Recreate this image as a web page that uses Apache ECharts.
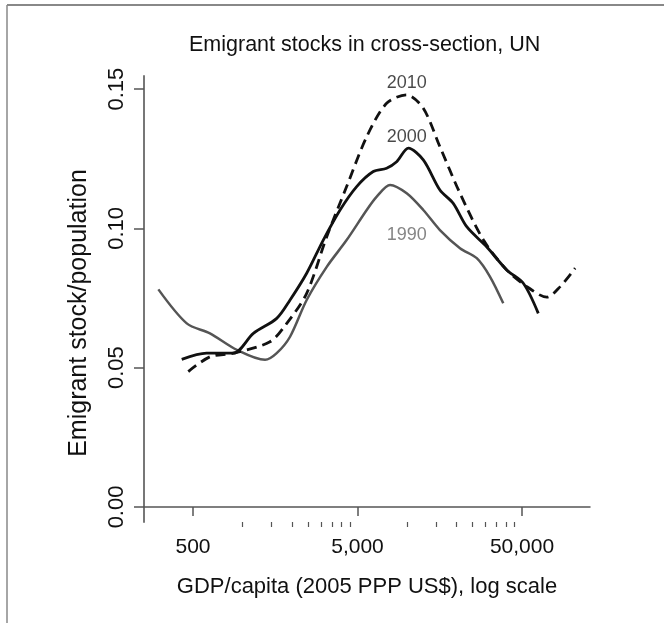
<!DOCTYPE html>
<html>
<head>
<meta charset="utf-8">
<script src="https://cdn.jsdelivr.net/npm/echarts@6/dist/echarts.min.js"></script>
<style>
  html, body { margin: 0; padding: 0; background: #fff; }
  #main { width: 664px; height: 623px; }
</style>
</head>
<body>
<div id="main"></div>
<script>
// GDP per capita (2005 PPP US$) and emigrant stock / population
var gdp1990 = [308, 458, 634, 923, 1371, 1614, 1945, 2455, 3251, 4295, 5689, 6546, 7889, 9954, 12560, 15850, 20990, 26550, 31920, 38460];
var share1990 = [0.0781, 0.0659, 0.0623, 0.0564, 0.0528, 0.0552, 0.0611, 0.0743, 0.0862, 0.0958, 0.1066, 0.1114, 0.1156, 0.1126, 0.1066, 0.0994, 0.0929, 0.0893, 0.0827, 0.0731];

var gdp2000 = [427, 605, 879, 1164, 1614, 1945, 2455, 3097, 3917, 4943, 6237, 7516, 8650, 10190, 12560, 15850, 19100, 23070, 30480, 40360, 50930, 62810];
var share2000 = [0.0530, 0.0552, 0.0552, 0.0623, 0.0677, 0.0743, 0.0839, 0.0958, 0.1066, 0.1150, 0.1204, 0.1216, 0.1239, 0.1288, 0.1246, 0.1138, 0.1090, 0.1006, 0.0934, 0.0851, 0.0803, 0.0695];

var gdp2010 = [468, 634, 879, 1469, 1858, 2455, 3251, 4295, 5689, 7516, 9954, 12560, 15850, 20990, 29170, 40360, 53580, 70790, 85310, 105200];
var share2010 = [0.0486, 0.0539, 0.0552, 0.0593, 0.0659, 0.0767, 0.0970, 0.1150, 0.1329, 0.1449, 0.1479, 0.1431, 0.1293, 0.1126, 0.0958, 0.0851, 0.0791, 0.0753, 0.0791, 0.0857];

// year labels placed in the plot
var yearNames = ['2010', '2000', '1990'];
var yearGdp = [9954, 9954, 9954];
var yearShare = [0.1523, 0.1327, 0.0976];

// axis ticks
var xMajor = [500, 5000, 50000];
var xMinor = [1000, 1500, 2000, 2500, 3000, 3500, 4000, 4500, 10000, 15000, 20000, 25000, 30000, 35000, 40000, 45000];
var yTicks = [0, 0.05, 0.10, 0.15];

function lg(v) { return Math.log10(v); }
function pairs(xs, ys) {
  return xs.map(function (x, i) { return [lg(x), ys[i]]; });
}
function fmtNum(v) {
  return Math.round(Math.pow(10, v)).toString().replace(/\B(?=(\d{3})+(?!\d))/g, ',');
}

var xMin = 2.4011, xMax = 5.1124;
var fontFam = '"Liberation Sans", Arial, sans-serif';
var ink = '#111';

var chart = echarts.init(document.getElementById('main'));
var option = {
  backgroundColor: '#fff',
  animation: false,
  title: {
    text: 'Emigrant stocks in cross-section, UN',
    left: 184,
    top: 29,
    textStyle: { fontFamily: fontFam, fontSize: 21.5, fontWeight: 'normal', color: ink }
  },
  grid: { left: 144, top: 76, width: 446, height: 446 },
  xAxis: [{
    type: 'value',
    min: xMin,
    max: xMax,
    name: 'GDP/capita (2005 PPP US$), log scale',
    nameLocation: 'middle',
    nameGap: 54,
    nameTextStyle: { fontFamily: fontFam, fontSize: 22, color: ink },
    axisLine: { lineStyle: { color: '#555', width: 1.5 } },
    axisTick: { show: true, length: 9, customValues: xMajor.map(lg), lineStyle: { color: '#555', width: 1.5 } },
    axisLabel: {
      customValues: xMajor.map(lg),
      formatter: fmtNum,
      margin: 15,
      fontFamily: fontFam, fontSize: 21, color: ink
    },
    splitLine: { show: false }
  }, {
    type: 'value',
    min: xMin,
    max: xMax,
    position: 'bottom',
    axisLine: { show: false },
    axisTick: { show: true, length: 5, customValues: xMinor.map(lg), lineStyle: { color: '#555', width: 1.2 } },
    axisLabel: { show: false },
    splitLine: { show: false }
  }],
  yAxis: {
    type: 'value',
    min: -0.0054,
    max: 0.1547,
    name: 'Emigrant stock/population',
    nameLocation: 'middle',
    nameGap: 52,
    nameTextStyle: { fontFamily: fontFam, fontSize: 25, color: ink, padding: [0, 28, 0, 0] },
    axisLine: { show: true, lineStyle: { color: '#777', width: 2 } },
    axisTick: { show: true, length: 10, customValues: yTicks, lineStyle: { color: '#555', width: 1.5 } },
    axisLabel: {
      customValues: yTicks,
      rotate: 90,
      margin: 16,
      formatter: function (v) { return v.toFixed(2); },
      fontFamily: fontFam, fontSize: 22, color: ink
    },
    splitLine: { show: false }
  },
  graphic: [
    { type: 'line', shape: { x1: 7, y1: 5, x2: 664, y2: 5 }, style: { stroke: '#888', lineWidth: 2 } },
    { type: 'line', shape: { x1: 7, y1: 5, x2: 7, y2: 623 }, style: { stroke: '#888', lineWidth: 1.5 } }
  ],
  series: [{
    name: '1990',
    type: 'line',
    data: pairs(gdp1990, share1990),
    smooth: 0.3,
    showSymbol: false,
    lineStyle: { color: '#555', width: 2.5 }
  }, {
    name: '2000',
    type: 'line',
    data: pairs(gdp2000, share2000),
    smooth: 0.3,
    showSymbol: false,
    lineStyle: { color: '#111', width: 2.8 }
  }, {
    name: '2010',
    type: 'line',
    data: pairs(gdp2010, share2010),
    smooth: 0.3,
    showSymbol: false,
    lineStyle: { color: '#111', width: 2.8, type: [10, 6] }
  }, {
    name: 'labels',
    type: 'scatter',
    symbolSize: 0,
    data: yearNames.map(function (n, i) {
      return {
        value: [lg(yearGdp[i]), yearShare[i]],
        label: { color: n === '1990' ? '#666' : '#1a1a1a' }
      };
    }),
    label: {
      show: true,
      position: 'inside',
      formatter: function (p) { return yearNames[p.dataIndex]; },
      fontFamily: fontFam,
      fontSize: 18
    }
  }]
};
chart.setOption(option);
</script>
</body>
</html>
